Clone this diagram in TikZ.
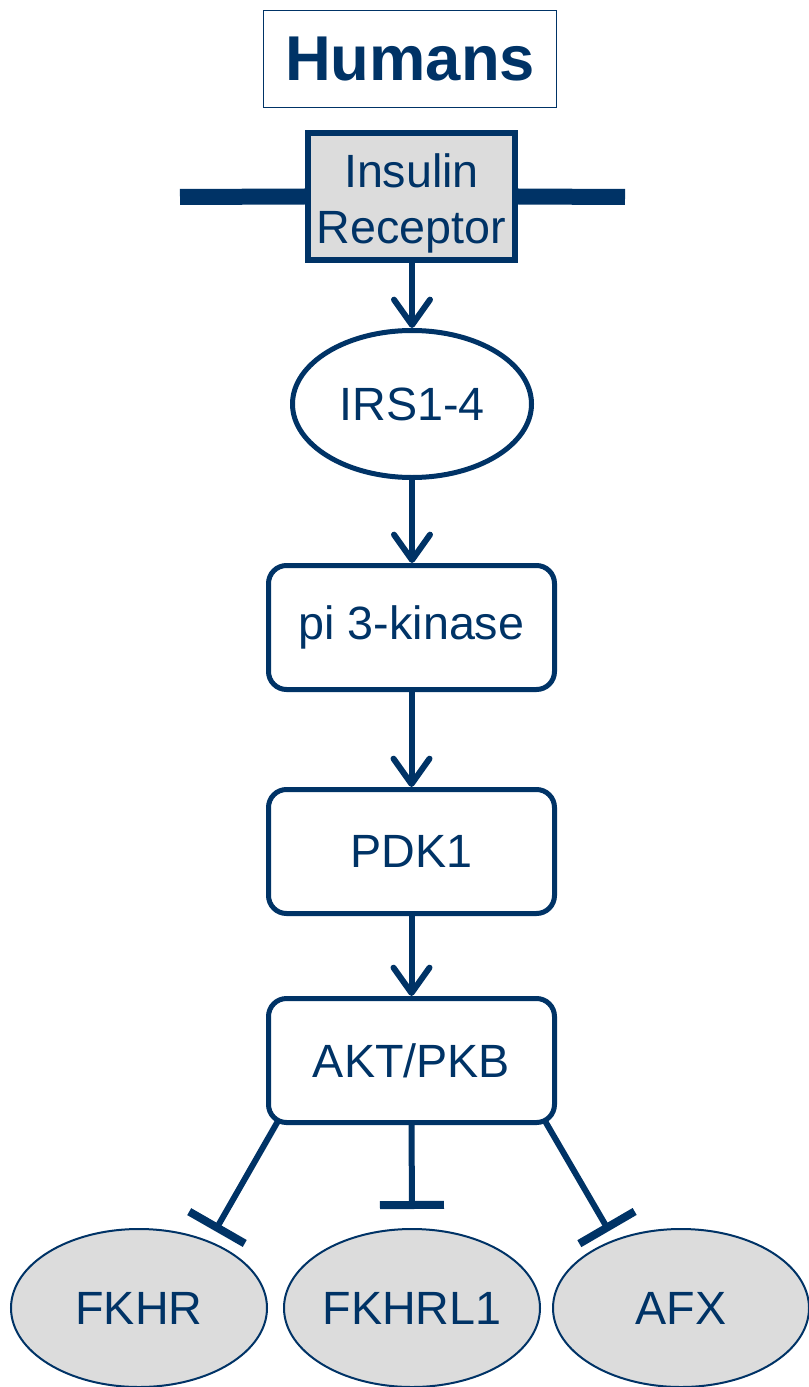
\documentclass[tikz,border=0pt]{standalone}
\usepackage{fontspec}
\setmainfont{Liberation Sans}
\usetikzlibrary{arrows.meta,shapes.geometric,calc}
\definecolor{navy}{RGB}{0,51,102}
\definecolor{fillgray}{RGB}{220,220,220}
\begin{document}
\begin{tikzpicture}[x=0.75pt,y=-0.75pt,
  every node/.style={text=navy, font=\fontsize{35}{43.5}\selectfont},
  rbox/.style={draw=navy, line width=3.75pt, rounded corners=13.5pt, fill=white,
    minimum width=214.5pt, minimum height=93pt, inner sep=0pt},
  gellipse/.style={ellipse, draw=navy, line width=1.5pt, fill=fillgray,
    minimum width=192pt, minimum height=118.5pt, inner sep=0pt},
  arr/.style={draw=navy, line width=4.5pt, -{Straight Barb[length=19pt,width=27pt,round]}},
  inh/.style={draw=navy, line width=4.5pt, -{Bar[width=48pt,line width=6pt]}},
]
\useasboundingbox (0,0) rectangle (808,1387);

% title
\node[draw=navy, line width=1.1pt, minimum width=219.4pt, minimum height=72.4pt, inner sep=0pt,
  font=\fontsize{47.5}{55}\selectfont\bfseries] (title) at (410,59) {Humans};

% membrane
\coordinate (mL) at (180,197);
\coordinate (mR) at (625,197);
\node[draw=navy, line width=4.5pt, fill=fillgray, minimum width=155.25pt, minimum height=95.25pt,
  inner sep=0pt] (rec) at (411.5,196.5) {};
\node[align=center, inner sep=0pt, font=\fontsize{35}{42}\selectfont] (rectext) at (411.5,203) {Insulin\\Receptor};
\draw[navy, line width=12pt] (mL) -- (rec.west);
\draw[navy, line width=12pt] (rec.east) -- (mR);

% chain
\node[ellipse, draw=navy, line width=3.75pt, fill=white, minimum width=179.25pt,
  minimum height=110.25pt, inner sep=0pt] (irs) at (412,404) {IRS1-4};
\node[rbox] (pi3k) at (411.5,627.5) {pi 3-kinase};
\node[rbox] (pdk) at (411.5,851.5) {PDK1};
\node[rbox] (akt) at (411.5,1060.5) {AKT/PKB};

\draw[arr] (rec.south -| irs.north) -- (irs.north);
\draw[arr] (irs.south) -- (pi3k.north -| irs.south);
\draw[arr] (pi3k.south) -- (pdk.north);
\draw[arr] (pdk.south) -- (akt.north);

% targets
\node[gellipse] (fkhr) at (139,1308) {FKHR};
\node[gellipse] (fkhrl) at (412,1308) {FKHRL1};
\node[gellipse] (afx) at (681,1308) {AFX};

\coordinate (s1) at ($(akt.south west)+(12,-4)$);
\coordinate (s3) at ($(akt.south east)+(-12,-4)$);
\coordinate (t1) at (215,1231);
\coordinate (t2) at (412,1209);
\coordinate (t3) at (609,1231);
\draw[inh] (s1) -- (t1);
\draw[inh] (akt.south) -- (t2);
\draw[inh] (s3) -- (t3);
\end{tikzpicture}
\end{document}
